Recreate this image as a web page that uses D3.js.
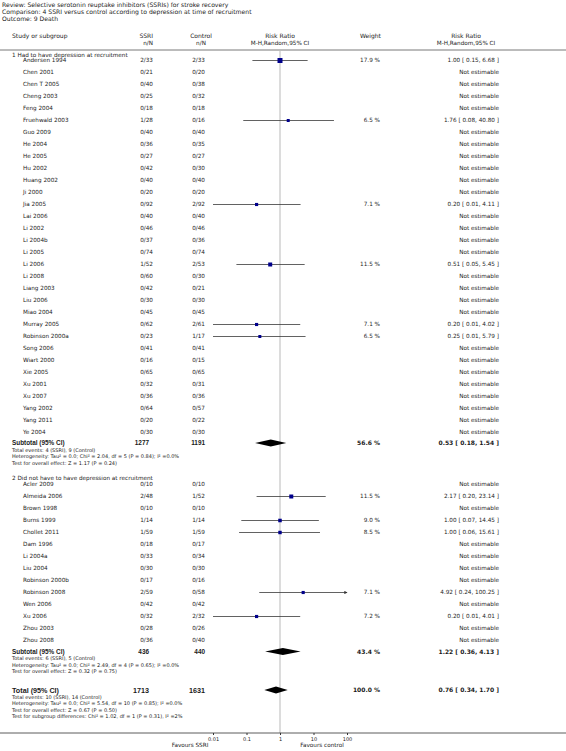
<!DOCTYPE html>
<html><head><meta charset="utf-8">
<script src="https://cdn.jsdelivr.net/npm/d3@7"></script>
<style>
body{margin:0;background:#fff;}
svg text{font-family:"DejaVu Sans",Verdana,sans-serif;fill:#1a1a1a;}
</style></head>
<body><svg id="c" width="566" height="751"></svg>
<script>
// ---------- DATA ----------
const titleLines = [
  "Review:  Selective serotonin reuptake inhibitors (SSRIs) for stroke recovery",
  "Comparison:  4 SSRI versus control according to depression at time of recruitment",
  "Outcome:  9 Death"
];
const groupLabels = ["1 Had to have depression at recruitment", "2 Did not have to have depression at recruitment"];

const g1Studies = ["Andersen 1994","Chen 2001","Chen T 2005","Cheng 2003","Feng 2004","Fruehwald 2003","Guo 2009","He 2004","He 2005","Hu 2002","Huang 2002","Ji 2000","Jia 2005","Lai 2006","Li 2002","Li 2004b","Li 2005","Li 2006","Li 2008","Liang 2003","Liu 2006","Miao 2004","Murray 2005","Robinson 2000a","Song 2006","Wiart 2000","Xie 2005","Xu 2001","Xu 2007","Yang 2002","Yang 2011","Ye 2004"];
const g1Ssri = ["2/33","0/21","0/40","0/25","0/18","1/28","0/40","0/36","0/27","0/42","0/40","0/20","0/92","0/40","0/46","0/37","0/74","1/52","0/60","0/42","0/30","0/45","0/62","0/23","0/41","0/16","0/65","0/32","0/36","0/64","0/20","0/30"];
const g1Control = ["2/33","0/20","0/38","0/32","0/18","0/16","0/40","0/35","0/27","0/30","0/40","0/20","2/92","0/40","0/46","0/36","0/74","2/53","0/30","0/21","0/30","0/45","2/61","1/17","0/41","0/15","0/65","0/31","0/36","0/57","0/22","0/30"];
const g1Weight = [17.9,null,null,null,null,6.5,null,null,null,null,null,null,7.1,null,null,null,null,11.5,null,null,null,null,7.1,6.5,null,null,null,null,null,null,null,null];
const g1RR = [1.00,null,null,null,null,1.76,null,null,null,null,null,null,0.20,null,null,null,null,0.51,null,null,null,null,0.20,0.25,null,null,null,null,null,null,null,null];
const g1Lo = [0.15,null,null,null,null,0.08,null,null,null,null,null,null,0.01,null,null,null,null,0.05,null,null,null,null,0.01,0.01,null,null,null,null,null,null,null,null];
const g1Hi = [6.68,null,null,null,null,40.80,null,null,null,null,null,null,4.11,null,null,null,null,5.45,null,null,null,null,4.02,5.79,null,null,null,null,null,null,null,null];

const g2Studies = ["Acler 2009","Almeida 2006","Brown 1998","Burns 1999","Chollet 2011","Dam 1996","Li 2004a","Liu 2004","Robinson 2000b","Robinson 2008","Wen 2006","Xu 2006","Zhou 2003","Zhou 2008"];
const g2Ssri = ["0/10","2/48","0/10","1/14","1/59","0/18","0/33","0/30","0/17","2/59","0/42","0/32","0/28","0/36"];
const g2Control = ["0/10","1/52","0/10","1/14","1/59","0/17","0/34","0/30","0/16","0/58","0/42","2/32","0/26","0/40"];
const g2Weight = [null,11.5,null,9.0,8.5,null,null,null,null,7.1,null,7.2,null,null];
const g2RR = [null,2.17,null,1.00,1.00,null,null,null,null,4.92,null,0.20,null,null];
const g2Lo = [null,0.20,null,0.07,0.06,null,null,null,null,0.24,null,0.01,null,null];
const g2Hi = [null,23.14,null,14.45,15.61,null,null,null,null,100.25,null,4.01,null,null];

const subtotalLabels = ["Subtotal (95% CI)","Subtotal (95% CI)","Total (95% CI)"];
const subtotalSsri = ["1277","436","1713"];
const subtotalControl = ["1191","440","1631"];
const subtotalWeight = [56.6,43.4,100.0];
const subtotalRR = [0.53,1.22,0.76];
const subtotalLo = [0.18,0.36,0.34];
const subtotalHi = [1.54,4.13,1.70];
const subtotalNotes = [
  ["Total events: 4 (SSRI), 9 (Control)","Heterogeneity: Tau\u00B2 = 0.0; Chi\u00B2 = 2.04, df = 5 (P = 0.84); I\u00B2 =0.0%","Test for overall effect: Z = 1.17 (P = 0.24)"],
  ["Total events: 6 (SSRI), 5 (Control)","Heterogeneity: Tau\u00B2 = 0.0; Chi\u00B2 = 2.49, df = 4 (P = 0.65); I\u00B2 =0.0%","Test for overall effect: Z = 0.32 (P = 0.75)"],
  ["Total events: 10 (SSRI), 14 (Control)","Heterogeneity: Tau\u00B2 = 0.0; Chi\u00B2 = 5.54, df = 10 (P = 0.85); I\u00B2 =0.0%","Test for overall effect: Z = 0.67 (P = 0.50)","Test for subgroup differences: Chi\u00B2 = 1.02, df = 1 (P = 0.31), I\u00B2 =2%"]
];
const tickValues = [0.01,0.1,1,10,100];
const tickLabels = ["0.01","0.1","1","10","100"];
const favourLabels = ["Favours SSRI","Favours control"];

// ---------- LAYOUT ----------
const svg = d3.select("#c");
const W = 566;
const x = d3.scaleLog().domain([0.01,100]).range([213,347]);
const FS = 5.7;
const colName = 23, colHead = 12, colSsri = 153, colCtrl = 205, colWt = 380, colRR = 499, colRRc = 466;
const rowStep = 12;
const g1y = d3.scaleLinear().domain([0,1]).range([60.5, 60.5+rowStep]);
const g2y = d3.scaleLinear().domain([0,1]).range([484.5, 484.5+rowStep]);
const groups = [
  {label:groupLabels[0], hy:55.5, y:g1y, studies:g1Studies, ssri:g1Ssri, ctrl:g1Control, w:g1Weight, rr:g1RR, lo:g1Lo, hi:g1Hi},
  {label:groupLabels[1], hy:478.5, y:g2y, studies:g2Studies, ssri:g2Ssri, ctrl:g2Control, w:g2Weight, rr:g2RR, lo:g2Lo, hi:g2Hi}
];
const sumY = [443, 651.5, 690];
const noteStep = 6.4;

function txt(xp, yp, s, opt={}) {
  return svg.append("text").attr("x",xp).attr("y",yp).attr("dy","0.35em")
    .attr("font-size", opt.size||FS).attr("font-weight", opt.bold?"bold":null)
    .attr("text-anchor", opt.anchor||"start").text(s);
}
const fmt = d3.format(".2f");
const rrText = (r,l,h) => `${fmt(r)} [ ${fmt(l)}, ${fmt(h)} ]`;

// title
titleLines.forEach((t,i)=>txt(2, 5+i*7, t, {size:6.1}));
// headers
txt(colHead, 36, "Study or subgroup", {size:6});
txt(colSsri, 36, "SSRI", {anchor:"end", size:6});
txt(colSsri, 43, "n/N", {anchor:"end"});
txt(201, 36, "Control", {anchor:"middle", size:6});
txt(201, 43, "n/N", {anchor:"middle"});
txt(x(1), 36, "Risk Ratio", {anchor:"middle", size:6});
txt(x(1), 43, "M-H,Random,95% CI", {anchor:"middle"});
txt(360, 36, "Weight", {size:6});
txt(colRRc, 36, "Risk Ratio", {anchor:"middle", size:6});
txt(colRRc, 43, "M-H,Random,95% CI", {anchor:"middle"});
svg.append("line").attr("x1",0).attr("x2",W).attr("y1",50).attr("y2",50).attr("stroke","#555").attr("stroke-width",0.8);

// null line
svg.append("line").attr("x1",x(1)).attr("x2",x(1)).attr("y1",51).attr("y2",733)
  .attr("stroke","#dcdcdc").attr("stroke-width",2);

// arrow marker
svg.append("defs").append("marker").attr("id","arr").attr("viewBox","0 0 6 6").attr("refX",5).attr("refY",3)
  .attr("markerWidth",4).attr("markerHeight",4).attr("orient","auto")
  .append("path").attr("d","M0,0 L6,3 L0,6 Z").attr("fill","#333");

groups.forEach(g=>{
  txt(colHead, g.hy, g.label);
  g.studies.forEach((s,i)=>{
    const yy = g.y(i);
    txt(colName, yy, s);
    txt(colSsri, yy, g.ssri[i], {anchor:"end"});
    txt(colCtrl, yy, g.ctrl[i], {anchor:"end"});
    if (g.rr[i]===null) {
      txt(colRR, yy, "Not estimable", {anchor:"end"});
    } else {
      const hiC = Math.min(g.hi[i], 100), loC = Math.max(g.lo[i], 0.01);
      const ln = svg.append("line").attr("x1",x(loC)).attr("x2",x(hiC)).attr("y1",yy).attr("y2",yy)
        .attr("stroke","#3a3a3a").attr("stroke-width",0.8);
      if (g.hi[i] > 100) ln.attr("marker-end","url(#arr)");
      const sz = 1.18*Math.sqrt(g.w[i]);
      svg.append("rect").attr("x",x(g.rr[i])-sz/2).attr("y",yy-sz/2).attr("width",sz).attr("height",sz).attr("fill","#00008b");
      txt(colWt, yy, g.w[i].toFixed(1)+" %", {anchor:"end"});
      txt(colRR, yy, rrText(g.rr[i],g.lo[i],g.hi[i]), {anchor:"end"});
    }
  });
});

// subtotals / total
sumY.forEach((yy,k)=>{
  const big = k===2;
  const bs = big ? 7.2 : 6.4;
  svg.append("text").attr("x",colHead).attr("y",yy).attr("dy","0.35em").attr("font-size",bs)
    .attr("font-weight","bold").style("font-family","'Liberation Sans',Arial,sans-serif").text(subtotalLabels[k]);
  svg.append("text").attr("x",colSsri-4).attr("y",yy).attr("dy","0.35em").attr("font-size",bs).attr("text-anchor","end")
    .attr("font-weight","bold").style("font-family","'Liberation Sans',Arial,sans-serif").text(subtotalSsri[k]);
  svg.append("text").attr("x",colCtrl).attr("y",yy).attr("dy","0.35em").attr("font-size",bs).attr("text-anchor","end")
    .attr("font-weight","bold").style("font-family","'Liberation Sans',Arial,sans-serif").text(subtotalControl[k]);
  txt(colWt, yy, subtotalWeight[k].toFixed(1)+" %", {anchor:"end", bold:true, size:6});
  txt(colRR, yy, rrText(subtotalRR[k],subtotalLo[k],subtotalHi[k]), {anchor:"end", bold:true, size:6});
  const h = 3.4;
  const pts = [[x(subtotalLo[k]),yy],[x(subtotalRR[k]),yy-h],[x(subtotalHi[k]),yy],[x(subtotalRR[k]),yy+h]];
  svg.append("path").attr("d","M"+pts.map(p=>p.join(",")).join("L")+"Z").attr("fill","#000");
  subtotalNotes[k].forEach((n,j)=>{
    txt(colHead, yy+7+j*noteStep, n, {size:5});
  });
});

// axis
const axisY = 733;
svg.append("line").attr("x1",0).attr("x2",W).attr("y1",axisY).attr("y2",axisY).attr("stroke","#333").attr("stroke-width",0.8);
const ax = d3.axisBottom(x).tickValues(tickValues).tickFormat((d,i)=>tickLabels[i]).tickSize(2).tickPadding(2);
const axG = svg.append("g").attr("transform",`translate(0,${axisY})`).call(ax);
axG.select(".domain").remove();
axG.selectAll("text").attr("font-size",5).attr("fill","#1a1a1a").style("font-family","'DejaVu Sans',sans-serif");
axG.selectAll("line").attr("stroke","#333");
txt(190, 745.5, favourLabels[0], {anchor:"middle"});
txt(322, 745.5, favourLabels[1], {anchor:"middle"});
</script></body></html>
